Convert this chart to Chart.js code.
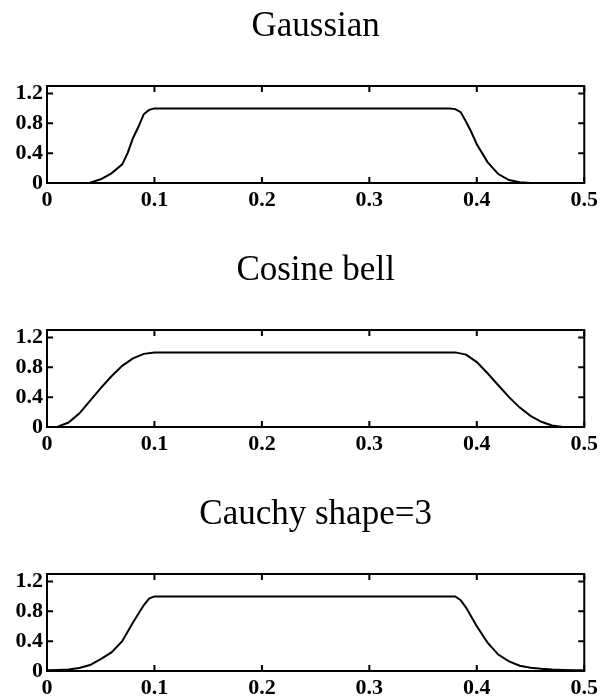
<!DOCTYPE html>
<html>
<head>
<meta charset="utf-8">
<script src="https://cdn.jsdelivr.net/npm/chart.js@4.4.0/dist/chart.umd.min.js"></script>
<style>
  html, body { margin:0; padding:0; background:#fff; overflow:hidden; }
  .panel { position:absolute; left:0; width:602px; height:213px; }
</style>
</head>
<body>
<div class="panel" style="top:0px"><canvas id="gaussChart" width="602" height="213"></canvas></div>
<div class="panel" style="top:244px"><canvas id="cosChart" width="602" height="213"></canvas></div>
<div class="panel" style="top:488px"><canvas id="cauchyChart" width="602" height="213"></canvas></div>
<script>
// tick labels
const xTicks = [0, 0.1, 0.2, 0.3, 0.4, 0.5];
const yTicks = [0, 0.4, 0.8, 1.2];

// Gaussian taper
const gaussX = [0, 0.03, 0.04, 0.05, 0.06, 0.07, 0.075, 0.08, 0.085, 0.09, 0.095, 0.1,
                0.375, 0.38, 0.385, 0.39, 0.395, 0.4, 0.41, 0.42, 0.43, 0.44, 0.45, 0.5];
const gaussY = [0, 0, 0.005, 0.05, 0.13, 0.25, 0.4, 0.6, 0.75, 0.92, 0.98, 1.0,
                1.0, 0.99, 0.95, 0.82, 0.68, 0.52, 0.28, 0.12, 0.04, 0.01, 0, 0];

// Cosine bell taper
const cosX = [0, 0.005, 0.01, 0.02, 0.03, 0.04, 0.05, 0.06, 0.07, 0.08, 0.09, 0.1,
              0.38, 0.39, 0.4, 0.41, 0.42, 0.43, 0.44, 0.45, 0.46, 0.47, 0.48, 0.5];
const cosY = [0, 0, 0.005, 0.06, 0.18, 0.35, 0.52, 0.68, 0.82, 0.92, 0.98, 1.0,
              1.0, 0.97, 0.87, 0.72, 0.56, 0.4, 0.26, 0.15, 0.07, 0.02, 0, 0];

// Cauchy shape=3 taper
const cauchyX = [0, 0.01, 0.02, 0.03, 0.04, 0.05, 0.06, 0.07, 0.08, 0.09, 0.095, 0.1,
                 0.38, 0.385, 0.39, 0.4, 0.41, 0.42, 0.43, 0.44, 0.45, 0.46, 0.47, 0.48, 0.49, 0.5];
const cauchyY = [0.01, 0.015, 0.02, 0.04, 0.08, 0.16, 0.25, 0.4, 0.65, 0.88, 0.97, 1.0,
                 1.0, 0.95, 0.85, 0.6, 0.38, 0.22, 0.13, 0.07, 0.045, 0.03, 0.02, 0.015, 0.01, 0.01];

const titles = ['Gaussian', 'Cosine bell', 'Cauchy shape=3'];

// box round the plot with inward tick marks on all four sides
const frame = {
    id:'frame',
    afterDraw(chart){
        const ctx = chart.ctx, a = chart.chartArea;
        const xs = chart.scales.x, ys = chart.scales.y;
        ctx.save();
        ctx.strokeStyle = '#000';
        ctx.lineWidth = 2;
        ctx.strokeRect(a.left, a.top, a.right - a.left, a.bottom - a.top);
        ctx.beginPath();
        xTicks.forEach(v=>{
            const px = xs.getPixelForValue(v);
            ctx.moveTo(px, a.bottom); ctx.lineTo(px, a.bottom - 6);
            ctx.moveTo(px, a.top); ctx.lineTo(px, a.top + 6);
        });
        yTicks.forEach(v=>{
            const py = ys.getPixelForValue(v);
            ctx.moveTo(a.left, py); ctx.lineTo(a.left + 6, py);
            ctx.moveTo(a.right, py); ctx.lineTo(a.right - 6, py);
        });
        ctx.stroke();
        ctx.restore();
    }
};

const tickFont = {family:'Liberation Serif', size:22, weight:'bold'};

function makeChart(id, title, xv, yv){
    return new Chart(document.getElementById(id), {
        type:'line',
        data:{
            datasets:[{
                data: xv.map((x, i)=>({x:x, y:yv[i]})),
                borderColor:'#000',
                borderWidth:2,
                pointRadius:0,
                tension:0,
                fill:false
            }]
        },
        options:{
            responsive:false,
            animation:false,
            layout:{padding:{left:0, right:15, top:0, bottom:0}},
            plugins:{
                legend:{display:false},
                tooltip:{enabled:false},
                title:{
                    display:true,
                    fullSize:false,
                    text:title,
                    color:'#000',
                    font:{family:'Liberation Serif', size:35, weight:'normal'},
                    padding:{top:6, bottom:38}
                }
            },
            scales:{
                x:{
                    type:'linear',
                    min:0, max:0.5,
                    afterBuildTicks: s=>{ s.ticks = xTicks.map(v=>({value:v})); },
                    afterFit: s=>{ s.height = 30; },
                    grid:{display:false, drawTicks:false},
                    border:{display:false},
                    ticks:{color:'#000', font:tickFont, padding:4, maxRotation:0}
                },
                y:{
                    min:0, max:1.3,
                    afterBuildTicks: s=>{ s.ticks = yTicks.map(v=>({value:v})); },
                    afterFit: s=>{ s.width = 47; },
                    grid:{display:false, drawTicks:false},
                    border:{display:false},
                    ticks:{color:'#000', font:tickFont, padding:4}
                }
            }
        },
        plugins:[frame]
    });
}

makeChart('gaussChart', titles[0], gaussX, gaussY);
makeChart('cosChart', titles[1], cosX, cosY);
makeChart('cauchyChart', titles[2], cauchyX, cauchyY);
</script>
</body>
</html>
